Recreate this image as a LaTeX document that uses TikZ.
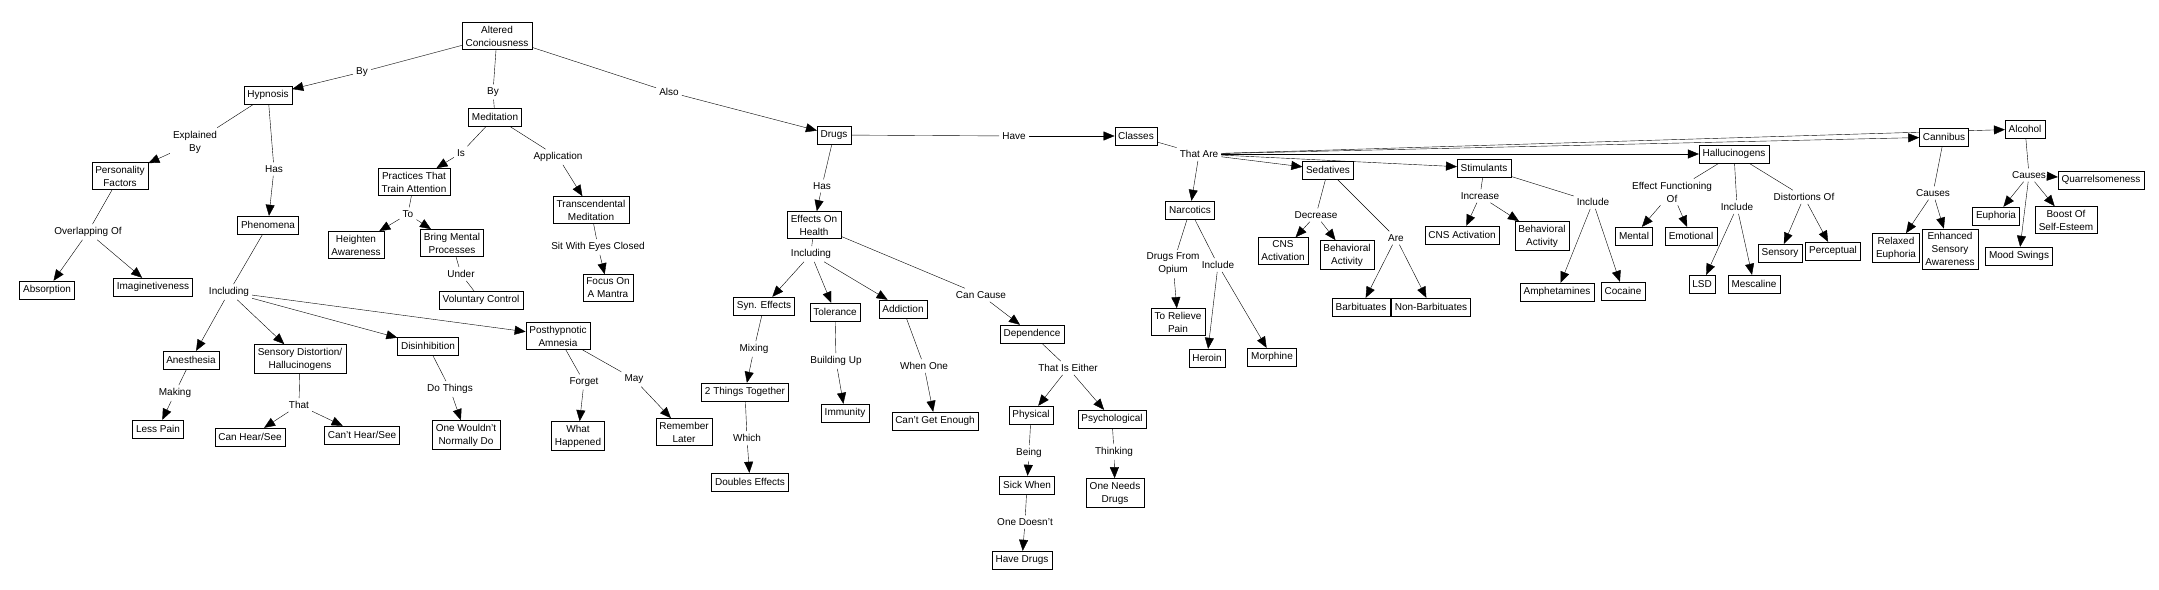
\documentclass[tikz,border=0pt]{standalone}
\usepackage{fontspec}
\setmainfont{Liberation Sans}
\usetikzlibrary{arrows.meta}
\pgfdeclarelayer{paper}
\pgfdeclarelayer{edges}
\pgfsetlayers{paper,edges,main}

\begin{document}
\begin{tikzpicture}[x=1pt,y=-1pt,line width=0.9pt,>={Triangle[length=11pt,width=9pt]}]
        \tikzstyle{every node}=[font=\fontsize{10}{13}\selectfont,align=center]
        \tikzstyle{concept}=[draw,fill=white,inner xsep=3.5pt,inner ysep=3.5pt,minimum height=18pt]
        \tikzstyle{phrase}=[inner sep=3pt]
        \useasboundingbox (0,0) rectangle (2159,589);
        \begin{pgfonlayer}{paper}\fill[white] (0,0) rectangle (2159,589);\end{pgfonlayer}
        % hypnosis and meditation
        \node[concept] (ac) at (497,36) {Altered\\Conciousness};
        \node[concept] (hyp) at (268,95) {Hypnosis};
        \node[concept] (med) at (495,117) {Meditation};
        \node[concept] (pf) at (120,176) {Personality\\Factors};
        \node[concept] (phen) at (268,225) {Phenomena};
        \node[concept] (abs) at (47,290) {Absorption};
        \node[concept] (imag) at (153,287) {Imaginetiveness};
        \node[concept] (anes) at (191,360) {Anesthesia};
        \node[concept] (lesspain) at (158,429) {Less Pain};
        \node[concept] (sdh) at (300,359) {Sensory Distortion/\\Hallucinogens};
        \node[concept] (canhear) at (250,437) {Can Hear/See};
        \node[concept] (canthear) at (362,435) {Can't Hear/See};
        \node[concept] (disinh) at (428,346) {Disinhibition};
        \node[concept] (wouldnt) at (466,435) {One Wouldn't\\Normally Do};
        \node[concept] (pha) at (558,336) {Posthypnotic\\Amnesia};
        \node[concept] (whathap) at (578,436) {What\\Happened};
        \node[concept] (remember) at (684,432) {Remember\\Later};
        \node[concept] (pta) at (414,182) {Practices That\\Train Attention};
        \node[concept] (heighten) at (356,245) {Heighten\\Awareness};
        \node[concept] (bmp) at (452,243) {Bring Mental\\Processes};
        \node[concept] (volctrl) at (481,300) {Voluntary Control};
        \node[concept] (tm) at (591,210) {Transcendental\\Meditation};
        \node[concept] (mantra) at (608,288) {Focus On\\A Mantra};
        \node[phrase] (lby1) at (362,72) {By};
        \node[phrase] (lby2) at (493,92) {By};
        \node[phrase] (lexpl) at (195,142) {Explained\\By};
        \node[phrase] (lhas1) at (274,169) {Has};
        \node[phrase] (loverl) at (88,232) {Overlapping Of};
        \node[phrase] (lincl1) at (229,292) {Including};
        \node[phrase] (lmaking) at (175,393) {Making};
        \node[phrase] (lthat) at (299,405) {That};
        \node[phrase] (ldothings) at (450,389) {Do Things};
        \node[phrase] (lforget) at (584,382) {Forget};
        \node[phrase] (lmay) at (634,379) {May};
        \node[phrase] (lis) at (461,153) {Is};
        \node[phrase] (lappl) at (558,157) {Application};
        \node[phrase] (lto) at (408,214) {To};
        \node[phrase] (lunder) at (461,274) {Under};
        \node[phrase] (lsit) at (598,247) {Sit With Eyes Closed};
        % drugs and health
        \node[concept] (drugs) at (834,135) {Drugs};
        \node[concept] (eoh) at (814,225) {Effects On\\Health};
        \node[concept] (syn) at (764,306) {Syn. Effects};
        \node[concept] (tol) at (835,312) {Tolerance};
        \node[concept] (addict) at (903,309) {Addiction};
        \node[concept] (dep) at (1032,334) {Dependence};
        \node[concept] (twothings) at (745,392) {2 Things Together};
        \node[concept] (immun) at (845,413) {Immunity};
        \node[concept] (cantget) at (935,421) {Can't Get Enough};
        \node[concept] (phys) at (1031,415) {Physical};
        \node[concept] (psych) at (1112,419) {Psychological};
        \node[concept] (doubles) at (750,482) {Doubles Effects};
        \node[concept] (sick) at (1027,485) {Sick When};
        \node[concept] (needs) at (1115,493) {One Needs\\Drugs};
        \node[concept] (havedrugs) at (1022,560) {Have Drugs};
        \node[phrase] (lalso) at (669,92) {Also};
        \node[phrase] (lhave) at (1014,136) {Have};
        \node[phrase] (lhas2) at (822,186) {Has};
        \node[phrase] (lincl2) at (811,254) {Including};
        \node[phrase] (lcancause) at (981,295) {Can Cause};
        \node[phrase] (lmixing) at (754,349) {Mixing};
        \node[phrase] (lwhich) at (747,438) {Which};
        \node[phrase] (lbuildup) at (836,361) {Building Up};
        \node[phrase] (lwhenone) at (924,366) {When One};
        \node[phrase] (leither) at (1068,368) {That Is Either};
        \node[phrase] (lbeing) at (1029,453) {Being};
        \node[phrase] (ldoesnt) at (1025,522) {One Doesn't};
        \node[phrase] (lthinking) at (1114,452) {Thinking};
        % classes of drugs
        \node[concept] (classes) at (1136,136) {Classes};
        \node[concept] (narc) at (1190,210) {Narcotics};
        \node[concept] (sed) at (1328,170) {Sedatives};
        \node[concept] (stim) at (1484,168) {Stimulants};
        \node[concept] (hall) at (1734,154) {Hallucinogens};
        \node[concept] (cann) at (1944,137) {Cannibus};
        \node[concept] (alc) at (2025,129) {Alcohol};
        \node[concept] (relieve) at (1178,322) {To Relieve\\Pain};
        \node[concept] (heroin) at (1207,358) {Heroin};
        \node[concept] (morph) at (1272,357) {Morphine};
        \node[concept] (cnsa) at (1283,251) {CNS\\Activation};
        \node[concept] (beha) at (1347,255) {Behavioral\\Activity};
        \node[concept] (nonbarb) at (1431,307) {Non-Barbituates};
        \node[concept] (barb) at (1361,307) {Barbituates};
        \node[concept] (cnsb) at (1462,235) {CNS Activation};
        \node[concept] (behb) at (1542,236) {Behavioral\\Activity};
        \node[concept] (amph) at (1557,292) {Amphetamines};
        \node[concept] (coc) at (1623,291) {Cocaine};
        \node[concept] (mental) at (1634,236) {Mental};
        \node[concept] (emot) at (1691,236) {Emotional};
        \node[concept] (lsd) at (1702,284) {LSD};
        \node[concept] (mesc) at (1754,284) {Mescaline};
        \node[concept] (sensory) at (1780,253) {Sensory};
        \node[concept] (percep) at (1833,251) {Perceptual};
        \node[concept] (relaxed) at (1896,248) {Relaxed\\Euphoria};
        \node[concept] (enhanced) at (1950,249) {Enhanced\\Sensory\\Awareness};
        \node[concept] (quarrel) at (2101,180) {Quarrelsomeness};
        \node[concept] (euph) at (1996,216) {Euphoria};
        \node[concept] (boost) at (2066,220) {Boost Of\\Self-Esteem};
        \node[concept] (mood) at (2019,256) {Mood Swings};
        \node[phrase] (lthatare) at (1199,154) {That Are};
        \node[phrase] (lopium) at (1173,264) {Drugs From\\Opium};
        \node[phrase] (lincl3) at (1218,265) {Include};
        \node[phrase] (ldecr) at (1316,215) {Decrease};
        \node[phrase] (lare) at (1396,238) {Are};
        \node[phrase] (lincr) at (1480,196) {Increase};
        \node[phrase] (lincl4) at (1593,202) {Include};
        \node[phrase] (leffect) at (1672,192) {Effect Functioning\\Of};
        \node[phrase] (lincl5) at (1737,207) {Include};
        \node[phrase] (ldist) at (1804,197) {Distortions Of};
        \node[phrase] (lcauses1) at (1933,193) {Causes};
        \node[phrase] (lcauses2) at (2029,175) {Causes};
        % links
        \begin{pgfonlayer}{edges}
        \draw (ac) -- (lby1); \draw[->] (lby1) -- (hyp);
        \draw (ac) -- (lby2) -- (med);
        \draw (ac) -- (lalso); \draw[->] (lalso) -- (drugs);
        \draw (hyp) -- (lexpl); \draw[->] (lexpl) -- (pf);
        \draw (hyp) -- (lhas1); \draw[->] (lhas1) -- (phen);
        \draw (pf) -- (loverl); \draw[->] (loverl) -- (abs); \draw[->] (loverl) -- (imag);
        \draw (phen) -- (lincl1); \draw[->] (lincl1) -- (anes); \draw[->] (lincl1) -- (sdh); \draw[->] (lincl1) -- (disinh); \draw[->] (lincl1) -- (pha);
        \draw (anes) -- (lmaking); \draw[->] (lmaking) -- (lesspain);
        \draw (sdh) -- (lthat); \draw[->] (lthat) -- (canhear); \draw[->] (lthat) -- (canthear);
        \draw (disinh) -- (ldothings); \draw[->] (ldothings) -- (wouldnt);
        \draw (pha) -- (lforget); \draw[->] (lforget) -- (whathap);
        \draw (pha) -- (lmay); \draw[->] (lmay) -- (remember);
        \draw (med) -- (lis); \draw[->] (lis) -- (pta);
        \draw (med) -- (lappl); \draw[->] (lappl) -- (tm);
        \draw (pta) -- (lto); \draw[->] (lto) -- (heighten); \draw[->] (lto) -- (bmp);
        \draw (bmp) -- (lunder) -- (volctrl);
        \draw (tm) -- (lsit); \draw[->] (lsit) -- (mantra);
        \draw (drugs) -- (lhave); \draw[->] (lhave) -- (classes);
        \draw (drugs) -- (lhas2); \draw[->] (lhas2) -- (eoh);
        \draw (eoh) -- (lincl2); \draw[->] (lincl2) -- (syn); \draw[->] (lincl2) -- (tol); \draw[->] (lincl2) -- (addict);
        \draw (eoh) -- (lcancause); \draw[->] (lcancause) -- (dep);
        \draw (syn) -- (lmixing); \draw[->] (lmixing) -- (twothings);
        \draw (twothings) -- (lwhich); \draw[->] (lwhich) -- (doubles);
        \draw (tol) -- (lbuildup); \draw[->] (lbuildup) -- (immun);
        \draw (addict) -- (lwhenone); \draw[->] (lwhenone) -- (cantget);
        \draw (dep) -- (leither); \draw[->] (leither) -- (phys); \draw[->] (leither) -- (psych);
        \draw (phys) -- (lbeing); \draw[->] (lbeing) -- (sick);
        \draw (sick) -- (ldoesnt); \draw[->] (ldoesnt) -- (havedrugs);
        \draw (psych) -- (lthinking); \draw[->] (lthinking) -- (needs);
        \draw (classes) -- (lthatare); \draw[->] (lthatare) -- (narc); \draw[->] (lthatare) -- (sed); \draw[->] (lthatare) -- (stim);
        \draw[->] (lthatare) -- (hall); \draw[->] (lthatare) -- (cann); \draw[->] (lthatare) -- (alc);
        \draw (narc) -- (lopium); \draw[->] (lopium) -- (relieve);
        \draw (narc) -- (lincl3); \draw[->] (lincl3) -- (heroin); \draw[->] (lincl3) -- (morph);
        \draw (sed) -- (ldecr); \draw[->] (ldecr) -- (cnsa); \draw[->] (ldecr) -- (beha);
        \draw (sed) -- (lare); \draw[->] (lare) -- (barb); \draw[->] (lare) -- (nonbarb);
        \draw (stim) -- (lincr); \draw[->] (lincr) -- (cnsb); \draw[->] (lincr) -- (behb);
        \draw (stim) -- (lincl4); \draw[->] (lincl4) -- (amph); \draw[->] (lincl4) -- (coc);
        \draw (hall) -- (leffect); \draw[->] (leffect) -- (mental); \draw[->] (leffect) -- (emot);
        \draw (hall) -- (lincl5); \draw[->] (lincl5) -- (lsd); \draw[->] (lincl5) -- (mesc);
        \draw (hall) -- (ldist); \draw[->] (ldist) -- (sensory); \draw[->] (ldist) -- (percep);
        \draw (cann) -- (lcauses1); \draw[->] (lcauses1) -- (relaxed); \draw[->] (lcauses1) -- (enhanced);
        \draw (alc) -- (lcauses2); \draw[->] (lcauses2) -- (quarrel); \draw[->] (lcauses2) -- (euph); \draw[->] (lcauses2) -- (boost); \draw[->] (lcauses2) -- (mood);
        \end{pgfonlayer}
\end{tikzpicture}
\end{document}
